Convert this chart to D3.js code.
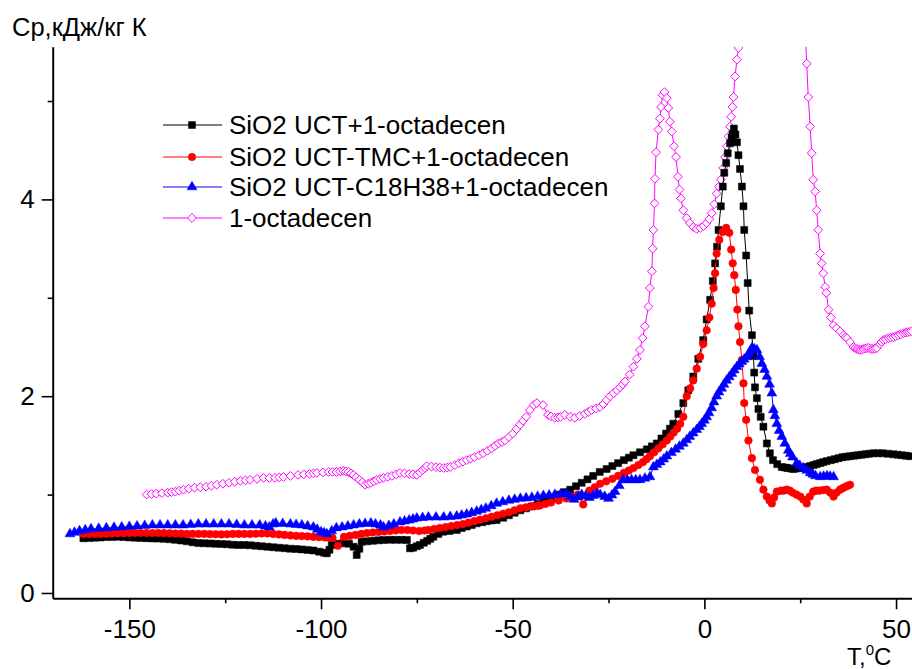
<!DOCTYPE html>
<html>
<head>
<meta charset="utf-8">
<script src="https://cdn.jsdelivr.net/npm/d3@7"></script>
<style>
  body { margin: 0; background: #fff; }
  svg { display: block; font-family: "Liberation Sans", Arial, sans-serif; }
</style>
</head>
<body>
<div id="content"></div>
<script>
// T (°C), Cp (kJ/kg K)
const uctData = [
  [-162, 0.556], [-160.5, 0.558], [-159, 0.562], [-157.5, 0.565], [-156, 0.568], [-154.5, 0.57], [-153, 0.572],
  [-151.5, 0.568], [-150, 0.565], [-148.5, 0.562], [-147, 0.56], [-145.5, 0.557], [-144, 0.555], [-142.5, 0.553],
  [-141, 0.55], [-139.5, 0.546], [-138, 0.54], [-136.5, 0.533], [-135, 0.525], [-133.5, 0.515], [-132, 0.507],
  [-130.5, 0.505], [-129, 0.503], [-127.5, 0.5], [-126, 0.498], [-124.5, 0.495], [-123, 0.49], [-121.5, 0.488],
  [-120, 0.487], [-118.5, 0.485], [-117, 0.48], [-115.5, 0.475], [-114, 0.47], [-112.5, 0.465], [-111, 0.46],
  [-109.5, 0.455], [-108, 0.45], [-106.5, 0.447], [-105, 0.443], [-103.5, 0.438], [-102, 0.432], [-100.5, 0.42],
  [-99.2, 0.41], [-98.5, 0.403], [-97.8, 0.44], [-97.2, 0.488], [-95.7, 0.5], [-94.2, 0.505], [-92.7, 0.5],
  [-91.5, 0.47], [-90.7, 0.386], [-90, 0.45], [-89.4, 0.521], [-88, 0.525], [-86.5, 0.53], [-85, 0.535],
  [-83.7, 0.539], [-82, 0.54], [-80.5, 0.54], [-79, 0.54], [-77.6, 0.539], [-76.8, 0.454], [-76, 0.46],
  [-75, 0.475], [-74.2, 0.488], [-73.2, 0.51], [-72.3, 0.53], [-71.5, 0.55], [-70.7, 0.572], [-69.4, 0.6],
  [-68.1, 0.623], [-66.5, 0.63], [-64.6, 0.64], [-63.3, 0.66], [-62, 0.675], [-60.7, 0.69], [-59.4, 0.708],
  [-58, 0.72], [-56.8, 0.73], [-55.5, 0.737], [-54.2, 0.742], [-52.5, 0.765], [-51, 0.79], [-49.5, 0.815],
  [-48, 0.84], [-46.5, 0.86], [-45, 0.88], [-43.5, 0.905], [-42, 0.93], [-40, 0.965], [-38, 1.0], [-36.5, 1.025],
  [-35, 1.05], [-33.5, 1.085], [-32, 1.12], [-30.5, 1.155], [-29, 1.19], [-27.3, 1.23], [-25.5, 1.26], [-24, 1.29],
  [-22.5, 1.32], [-21, 1.35], [-19.7, 1.375], [-18.5, 1.4], [-16.8, 1.43], [-15, 1.46], [-13.7, 1.49],
  [-12.4, 1.52], [-11.2, 1.57], [-10, 1.62], [-9, 1.67], [-8.1, 1.72], [-6.8, 1.82], [-5.5, 1.93], [-4.2, 2.06],
  [-2.9, 2.2], [-1.6, 2.38], [-0.3, 2.57], [0.6, 2.78], [1.5, 2.98], [2.2, 3.17], [2.8, 3.35], [3.3, 3.52],
  [3.7, 3.69], [4.3, 3.93], [4.8, 4.13], [5.2, 4.27], [5.7, 4.37], [6.1, 4.47], [6.7, 4.57], [7.1, 4.63],
  [7.4, 4.67], [7.7, 4.72], [8.1, 4.66], [8.5, 4.58], [8.9, 4.45], [9.3, 4.31], [9.8, 4.13], [10.2, 3.93],
  [10.4, 3.69], [10.9, 3.43], [11.3, 3.15], [11.7, 2.87], [12.4, 2.62], [12.8, 2.41], [13.0, 2.24], [13.2, 2.09],
  [13.7, 1.98], [14.1, 1.87], [14.7, 1.79], [15.4, 1.69], [16.3, 1.52], [17.1, 1.42], [17.9, 1.35], [19, 1.31],
  [20.2, 1.28], [21, 1.275], [21.7, 1.27], [22.5, 1.265], [23.2, 1.26], [24.1, 1.265], [25, 1.27], [25.8, 1.275],
  [26.7, 1.28], [27.6, 1.29], [28.5, 1.3], [29.3, 1.31], [30.2, 1.32], [31, 1.33], [31.9, 1.34], [33, 1.35],
  [34, 1.36], [35, 1.37], [36, 1.38], [37, 1.385], [38, 1.39], [39, 1.395], [40, 1.4], [41, 1.405], [42, 1.41],
  [43, 1.415], [44.1, 1.42], [45.3, 1.42], [46.5, 1.42], [47.9, 1.415], [49.3, 1.41], [50.4, 1.405], [51.5, 1.4],
  [52.6, 1.395], [53.7, 1.39]
];

const tmcData = [
  [-162, 0.6], [-160.5, 0.6], [-159, 0.6], [-157.5, 0.6], [-156, 0.602], [-154.5, 0.605], [-153, 0.607],
  [-151.5, 0.608], [-150, 0.61], [-148.5, 0.61], [-147, 0.61], [-145.5, 0.61], [-144, 0.61], [-142.5, 0.61],
  [-141, 0.608], [-139.5, 0.606], [-138, 0.605], [-136.5, 0.603], [-135, 0.6], [-133.5, 0.6], [-132, 0.6],
  [-130.5, 0.6], [-129, 0.598], [-127.5, 0.597], [-126, 0.595], [-124.5, 0.597], [-123, 0.6], [-121.5, 0.6],
  [-120, 0.6], [-118.5, 0.6], [-117, 0.602], [-115.5, 0.605], [-114, 0.605], [-112.5, 0.6], [-111, 0.595],
  [-109.5, 0.59], [-108, 0.585], [-106.5, 0.58], [-105, 0.578], [-103.5, 0.575], [-102, 0.57], [-100.5, 0.567],
  [-99, 0.565], [-98, 0.562], [-97, 0.56], [-95.6, 0.48], [-94, 0.57], [-92.5, 0.58], [-91, 0.59], [-89.5, 0.6],
  [-88, 0.61], [-86.5, 0.615], [-85, 0.62], [-83.5, 0.625], [-82, 0.63], [-80.5, 0.635], [-79, 0.64],
  [-77.5, 0.64], [-76, 0.635], [-74.4, 0.63], [-73, 0.635], [-72, 0.64], [-70.5, 0.65], [-69, 0.66],
  [-67.5, 0.67], [-66, 0.68], [-64.5, 0.69], [-63, 0.7], [-61.5, 0.715], [-60, 0.73], [-58.5, 0.745],
  [-57, 0.76], [-55.5, 0.775], [-54, 0.79], [-52.5, 0.805], [-51, 0.82], [-49.5, 0.84], [-48, 0.86],
  [-46.5, 0.87], [-45, 0.88], [-43.5, 0.885], [-42.9, 0.89], [-41.5, 0.905], [-40, 0.92], [-38, 0.94],
  [-36, 0.96], [-34.5, 0.98], [-33, 1.0], [-31.6, 0.9], [-30, 1.04], [-28.6, 1.075], [-27.2, 1.11],
  [-25.6, 1.135], [-24, 1.16], [-22.5, 1.19], [-21, 1.22], [-19.7, 1.245], [-18.5, 1.27], [-17.2, 1.3],
  [-16, 1.33], [-15.1, 1.36], [-14.2, 1.39], [-13.1, 1.43], [-12, 1.47], [-10.9, 1.51], [-9.8, 1.55],
  [-8.9, 1.59], [-8, 1.63], [-7.1, 1.67], [-6.3, 1.72], [-5.5, 1.79], [-4.6, 2.0], [-3.7, 2.08], [-2.9, 2.16],
  [-2, 2.28], [-1.1, 2.4], [-0.3, 2.53], [0.6, 2.67], [1.3, 2.8], [1.9, 2.94], [2.4, 3.1], [2.8, 3.25],
  [3.2, 3.45], [3.9, 3.59], [4.8, 3.67], [5.7, 3.71], [6.5, 3.66], [7.0, 3.49], [7.4, 3.35], [7.8, 3.23],
  [8.2, 3.08], [8.6, 2.88], [8.9, 2.71], [9.3, 2.55], [9.8, 2.37], [10.2, 2.13], [10.4, 1.93], [10.9, 1.76],
  [11.5, 1.55], [12.4, 1.37], [13.2, 1.25], [14.5, 1.15], [15.4, 1.05], [16.3, 0.98], [17.0, 0.94],
  [17.6, 0.91], [18.2, 0.97], [18.9, 1.03], [20, 1.04], [20.7, 1.04], [21.5, 1.05], [22.3, 1.04], [23, 1.02],
  [24, 1.0], [25, 0.98], [25.8, 0.95], [26.7, 0.91], [27.5, 0.98], [28.4, 1.03], [29.2, 1.04], [30, 1.04],
  [31, 1.045], [31.9, 1.05], [32.8, 1.02], [33.7, 0.98], [34.5, 1.02], [35.4, 1.05], [36.1, 1.065],
  [36.8, 1.08], [37.4, 1.09], [38, 1.1]
];

const c18Data = [
  [-165.5, 0.6], [-164.3, 0.615], [-163, 0.63], [-161.5, 0.64], [-160, 0.65], [-158, 0.655], [-156, 0.66],
  [-154, 0.665], [-152, 0.67], [-150, 0.675], [-148, 0.68], [-146, 0.685], [-144, 0.69], [-142, 0.69],
  [-140, 0.69], [-138, 0.69], [-136, 0.69], [-134, 0.695], [-132, 0.7], [-130, 0.7], [-128, 0.7], [-126, 0.7],
  [-124, 0.7], [-122, 0.695], [-120, 0.69], [-118, 0.69], [-116, 0.69], [-114.5, 0.68], [-113.5, 0.67],
  [-112.5, 0.7], [-111.8, 0.71], [-110, 0.705], [-108, 0.7], [-106.5, 0.695], [-105, 0.69], [-103.5, 0.68],
  [-102, 0.67], [-101, 0.645], [-100, 0.62], [-99.2, 0.61], [-98.5, 0.6], [-97.2, 0.63], [-96, 0.66],
  [-94.5, 0.67], [-93, 0.68], [-91.5, 0.69], [-90, 0.7], [-88.5, 0.705], [-87, 0.71], [-85.8, 0.7],
  [-84.5, 0.69], [-83.7, 0.67], [-82.3, 0.685], [-81, 0.7], [-79.4, 0.72], [-78.2, 0.73], [-77, 0.74],
  [-76, 0.75], [-75, 0.76], [-73.5, 0.765], [-72, 0.77], [-70, 0.77], [-68, 0.77], [-66.3, 0.775],
  [-64.6, 0.78], [-63.3, 0.79], [-62, 0.8], [-60.7, 0.815], [-59.4, 0.83], [-58.2, 0.845], [-57, 0.86],
  [-55.6, 0.885], [-54.2, 0.91], [-52.6, 0.925], [-51, 0.94], [-49.5, 0.95], [-48, 0.96], [-46.5, 0.965],
  [-45, 0.97], [-43.5, 0.98], [-42, 0.99], [-40.5, 0.995], [-39, 1.0], [-37.5, 1.005], [-36, 1.01],
  [-35, 0.98], [-34, 0.95], [-33, 0.975], [-32, 1.0], [-31, 0.985], [-30, 0.97], [-29, 0.99], [-28, 1.01],
  [-27.2, 1.0], [-26, 0.98], [-25, 0.96], [-24.1, 0.995], [-23.3, 1.03], [-22.2, 1.09], [-21.2, 1.15],
  [-20.1, 1.15], [-19, 1.15], [-17.9, 1.15], [-16.8, 1.15], [-15.5, 1.165], [-14.2, 1.18], [-13.3, 1.28],
  [-12.4, 1.305], [-11.5, 1.33], [-10.6, 1.36], [-9.8, 1.39], [-8.6, 1.425], [-7.5, 1.46], [-6.5, 1.49],
  [-5.5, 1.52], [-4.6, 1.555], [-3.8, 1.59], [-2.9, 1.625], [-2.0, 1.66], [-1.3, 1.69], [-0.7, 1.72],
  [0, 1.755], [0.6, 1.79], [1.2, 1.83], [1.9, 1.88], [2.5, 1.94], [3.2, 2.0], [3.8, 2.04], [4.5, 2.08],
  [5.1, 2.12], [5.8, 2.16], [6.5, 2.195], [7.2, 2.23], [7.8, 2.265], [8.5, 2.3], [9.1, 2.325], [9.8, 2.35],
  [10.4, 2.375], [11.1, 2.4], [11.6, 2.43], [12.0, 2.46], [12.4, 2.49], [13.0, 2.48], [13.7, 2.47],
  [14.4, 2.4], [15, 2.33], [15.7, 2.27], [16.3, 2.2], [17, 2.12], [17.6, 2.03], [18, 1.86], [18.4, 1.8],
  [18.9, 1.72], [19.5, 1.65], [20.2, 1.59], [21, 1.52], [21.9, 1.45], [22.4, 1.415], [23, 1.38], [24.1, 1.32],
  [24.9, 1.295], [25.8, 1.27], [26.7, 1.245], [27.6, 1.22], [28.3, 1.205], [29, 1.19], [30.2, 1.18],
  [31.1, 1.185], [32, 1.19], [32.8, 1.185], [33.7, 1.18]
];

const octadecenData = [
  [-145.5, 1.0], [-144.2, 1.005], [-143, 1.01], [-141.5, 1.015], [-140, 1.02], [-139, 1.025], [-138, 1.03],
  [-137, 1.04], [-135.9, 1.05], [-134.5, 1.06], [-133, 1.07], [-131.5, 1.075], [-130, 1.08], [-128.6, 1.09],
  [-127.2, 1.1], [-125.6, 1.11], [-124, 1.12], [-122.5, 1.13], [-121, 1.14], [-119.7, 1.145], [-118.5, 1.15],
  [-116.7, 1.16], [-115, 1.17], [-113.5, 1.17], [-112, 1.17], [-110.9, 1.175], [-109.8, 1.18], [-108, 1.19],
  [-106, 1.2], [-104.5, 1.205], [-103, 1.21], [-102, 1.215], [-101.1, 1.22], [-99.5, 1.225], [-98, 1.23],
  [-97, 1.23], [-96, 1.23], [-95, 1.235], [-94.2, 1.24], [-93.5, 1.235], [-92.8, 1.23], [-92.2, 1.215],
  [-91.6, 1.2], [-90.8, 1.175], [-90, 1.15], [-89.2, 1.125], [-88.5, 1.1], [-87.7, 1.11], [-87, 1.12],
  [-86.2, 1.135], [-85.5, 1.15], [-84.6, 1.16], [-83.7, 1.17], [-82.6, 1.18], [-81.5, 1.19], [-80.4, 1.205],
  [-79.4, 1.22], [-78.2, 1.215], [-77, 1.21], [-76, 1.205], [-75, 1.2], [-74.2, 1.225], [-73.5, 1.25],
  [-72.9, 1.27], [-72.4, 1.29], [-71.2, 1.285], [-70, 1.28], [-69, 1.275], [-68, 1.27], [-67.1, 1.275],
  [-66.3, 1.28], [-65.1, 1.3], [-64, 1.32], [-63, 1.335], [-62, 1.35], [-61, 1.365], [-60, 1.38],
  [-58.8, 1.4], [-57.7, 1.42], [-56.6, 1.445], [-55.5, 1.47], [-54.6, 1.495], [-53.7, 1.52], [-52.8, 1.535],
  [-52, 1.55], [-51, 1.585], [-50, 1.62], [-49, 1.665], [-48.1, 1.71], [-47.3, 1.75], [-46.5, 1.79],
  [-45.5, 1.86], [-44.5, 1.91], [-43.7, 1.93], [-42.1, 1.91], [-40.8, 1.81], [-40, 1.795], [-39, 1.78],
  [-38.2, 1.785], [-37.5, 1.79], [-36.4, 1.81], [-35, 1.79], [-33.8, 1.78], [-32.5, 1.8], [-31.2, 1.82],
  [-30.3, 1.84], [-29.4, 1.86], [-28.3, 1.875], [-27.2, 1.89], [-26.3, 1.92], [-25.5, 1.96], [-24.6, 2.0],
  [-23.7, 2.03], [-22.8, 2.06], [-22, 2.09], [-21.3, 2.12], [-20.7, 2.15], [-19.5, 2.22], [-18.5, 2.3],
  [-17.6, 2.38], [-16.8, 2.47], [-16.1, 2.59], [-15.5, 2.71], [-14.6, 2.91], [-14.2, 3.1], [-13.7, 3.27],
  [-13.5, 3.5], [-13.3, 3.69], [-13.0, 3.96], [-12.9, 4.21], [-12.6, 4.48], [-12.0, 4.71], [-11.6, 4.82],
  [-11.3, 4.94], [-10.9, 5.06], [-10.4, 5.09], [-9.8, 5.03], [-9.4, 4.93], [-9.0, 4.79], [-8.5, 4.69],
  [-7.9, 4.54], [-7.4, 4.43], [-6.9, 4.23], [-6.5, 4.1], [-6.1, 4.01], [-5.5, 3.89], [-4.6, 3.81],
  [-3.8, 3.76], [-2.9, 3.72], [-2, 3.7], [-1.1, 3.71], [-0.2, 3.73], [0.6, 3.76], [1.3, 3.8], [1.9, 3.86],
  [2.6, 3.95], [3.2, 4.06], [3.8, 4.13], [4.3, 4.2], [4.9, 4.32], [5.4, 4.43], [5.9, 4.54], [6.3, 4.64],
  [6.7, 4.74], [7.0, 4.84], [7.3, 4.94], [7.6, 5.04], [8.0, 5.25], [8.5, 5.42], [8.9, 5.54], [9.4, 5.8],
  [17, 7.0], [26.3, 5.75], [26.7, 5.38], [27.1, 5.04], [27.6, 4.74], [28.0, 4.47], [28.4, 4.2], [28.9, 4.08],
  [29.3, 3.89], [29.7, 3.69], [30.2, 3.45], [30.6, 3.35], [31.0, 3.25], [31.5, 3.11], [31.8, 3.05],
  [32.4, 2.88], [33, 2.8], [33.7, 2.72], [34.5, 2.69], [35.4, 2.66], [36.3, 2.62], [36.8, 2.6], [37.2, 2.59],
  [38, 2.55], [38.9, 2.5], [39.3, 2.49], [39.8, 2.48], [40.2, 2.475], [40.6, 2.47], [41, 2.475], [41.5, 2.48],
  [42, 2.485], [42.4, 2.49], [42.9, 2.49], [43.5, 2.48], [44, 2.48], [44.5, 2.485], [45, 2.49], [45.8, 2.53],
  [46.2, 2.55], [46.7, 2.57], [47.3, 2.58], [48, 2.59], [48.6, 2.595], [49.3, 2.6], [49.9, 2.61],
  [50.6, 2.62], [51.2, 2.63], [51.9, 2.64], [52.5, 2.645], [53, 2.65], [53.5, 2.655], [54.1, 2.66]
];

const seriesNames = [
  "SiO2 UCT+1-octadecen",
  "SiO2 UCT-TMC+1-octadecen",
  "SiO2 UCT-C18H38+1-octadecen",
  "1-octadecen",
];
const seriesColors = ["#000000", "#ff0000", "#0000ff", "#ff00ff"];
const xTicks = [-150, -100, -50, 0, 50];
const xMinorTicks = [-125, -75, -25, 25];
const yTicks = [0, 2, 4];
const yMinorTicks = [1, 3, 5];

const width = 912;
const height = 669;

const svg = d3
  .select("#content")
  .append("svg")
  .attr("width", width)
  .attr("height", height);

const x = d3.scaleLinear().domain([-170, 55]).range([52.7, 915.2]);
const y = d3.scaleLinear().domain([-0.054, 5.552]).range([598.3, 46.7]);

svg
  .append("clipPath")
  .attr("id", "plot-clip")
  .append("rect")
  .attr("x", 53)
  .attr("y", 46.7)
  .attr("width", width - 53)
  .attr("height", 598.3 - 46.7);

// marker shapes
const markerPath = {
  square: "M-3.5,-3.5H3.5V3.5H-3.5Z",
  circle: d3.symbol(d3.symbolCircle, 46)(),
  triangle: d3.symbol(d3.symbolTriangle, 42)(),
  diamond: "M0,-4.4L4.4,0L0,4.4L-4.4,0Z",
};

const series = [
  { name: seriesNames[3], data: octadecenData, color: seriesColors[3], shape: "diamond", open: true },
  { name: seriesNames[0], data: uctData, color: seriesColors[0], shape: "square", open: false },
  { name: seriesNames[1], data: tmcData, color: seriesColors[1], shape: "circle", open: false },
  { name: seriesNames[2], data: c18Data, color: seriesColors[2], shape: "triangle", open: false },
];

const line = d3
  .line()
  .x((d) => x(d[0]))
  .y((d) => y(d[1]));

const plot = svg.append("g").attr("clip-path", "url(#plot-clip)");

series.forEach((s) => {
  const g = plot.append("g");
  g.append("path")
    .datum(s.data)
    .attr("fill", "none")
    .attr("stroke", s.color)
    .attr("stroke-width", 1)
    .attr("d", line);

  g.selectAll("path.mark")
    .data(s.data)
    .enter()
    .append("path")
    .attr("class", "mark")
    .attr("transform", (d) => `translate(${x(d[0])},${y(d[1])})`)
    .attr("d", markerPath[s.shape])
    .attr("fill", s.open ? "#fff" : s.color)
    .attr("stroke", s.color)
    .attr("stroke-width", s.open ? 1 : 0.5);
});

// axes
svg
  .append("g")
  .attr("transform", `translate(0,${y.range()[0]})`)
  .call(
    d3.axisBottom(x).tickValues(xTicks).tickSize(11).tickSizeOuter(0).tickPadding(10)
      .tickFormat((d) => String(d))
  );

svg
  .append("g")
  .attr("transform", `translate(0,${y.range()[0]})`)
  .call(d3.axisBottom(x).tickValues(xMinorTicks).tickSize(5).tickSizeOuter(0).tickFormat(""))
  .select(".domain")
  .remove();

svg
  .append("g")
  .attr("transform", `translate(${x.range()[0]},0)`)
  .call(
    d3.axisLeft(y).tickValues(yTicks).tickSize(11).tickSizeOuter(0).tickPadding(7)
      .tickFormat((d) => String(d))
  );

svg
  .append("g")
  .attr("transform", `translate(${x.range()[0]},0)`)
  .call(d3.axisLeft(y).tickValues(yMinorTicks).tickSize(5).tickSizeOuter(0).tickFormat(""))
  .select(".domain")
  .remove();

svg.selectAll(".domain").attr("stroke", "#000").attr("stroke-width", 2);
svg.selectAll(".tick line").attr("stroke", "#000").attr("stroke-width", 1.6);
svg
  .selectAll(".tick text")
  .attr("fill", "#000")
  .style("font-family", '"Liberation Sans", Arial, sans-serif')
  .style("font-size", "26px");

// axis titles
svg
  .append("text")
  .attr("x", 12)
  .attr("y", 36)
  .style("font-size", "25.5px")
  .text("Ср,кДж/кг К");

const xTitle = svg
  .append("text")
  .attr("x", 847)
  .attr("y", 665)
  .style("font-size", "24px");
xTitle.append("tspan").text("T,");
xTitle.append("tspan").attr("dy", -10).style("font-size", "15px").text("0");
xTitle.append("tspan").attr("dy", 10).text("C");

// legend
const legendRows = [125, 157, 187, 218];
const legendOrder = [1, 2, 3, 0];
legendOrder.forEach((si, i) => {
  const s = series[si];
  const row = svg.append("g").attr("transform", `translate(0,${legendRows[i]})`);
  row.append("line")
    .attr("x1", 163)
    .attr("x2", 222)
    .attr("stroke", s.color)
    .attr("stroke-width", 1);
  row.append("path")
    .attr("transform", "translate(192,0)")
    .attr("d", markerPath[s.shape])
    .attr("fill", s.open ? "#fff" : s.color)
    .attr("stroke", s.color)
    .attr("stroke-width", s.open ? 1 : 0.5);
  row.append("text")
    .attr("x", 229)
    .attr("dy", "0.35em")
    .style("font-size", "26px")
    .text(s.name);
});
</script>
</body>
</html>
